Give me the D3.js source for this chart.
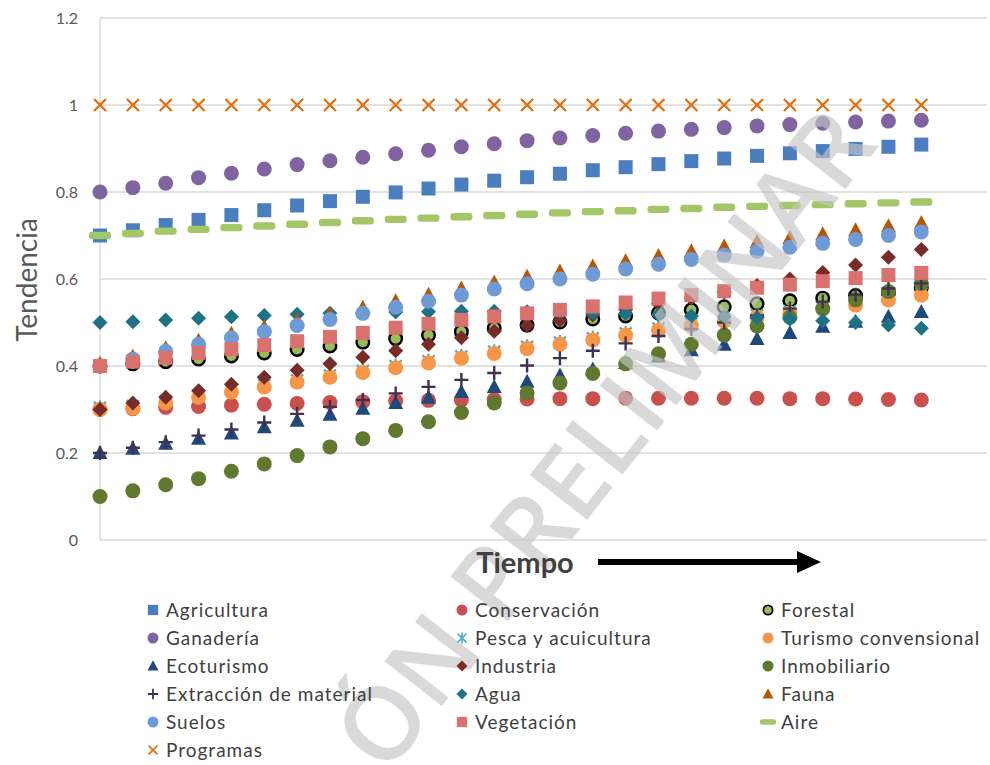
<!DOCTYPE html>
<html><head><meta charset="utf-8">
<script src="https://cdn.jsdelivr.net/npm/d3@7/dist/d3.min.js"></script>
<style>body{margin:0;background:#fff;} svg{display:block;}</style>
</head><body>
<svg id="c" width="990" height="765"></svg>
<script>
// ---- data ----
const periodos = [1,2,3,4,5,6,7,8,9,10,11,12,13,14,15,16,17,18,19,20,21,22,23,24,25,26];
const yTicks = [0, 0.2, 0.4, 0.6, 0.8, 1, 1.2];
const yTickLabels = ["0", "0.2", "0.4", "0.6", "0.8", "1", "1.2"];

const agricultura = [0.70,0.712,0.724,0.736,0.747,0.758,0.769,0.779,0.789,0.799,0.808,0.817,0.826,0.834,0.842,0.850,0.857,0.864,0.871,0.877,0.883,0.889,0.894,0.899,0.904,0.909];
const conservacion = [0.30,0.302,0.305,0.307,0.310,0.312,0.314,0.316,0.318,0.320,0.321,0.322,0.323,0.324,0.325,0.325,0.326,0.326,0.326,0.326,0.326,0.325,0.325,0.324,0.323,0.322];
const forestal = [0.40,0.405,0.41,0.416,0.423,0.43,0.438,0.446,0.455,0.463,0.471,0.479,0.487,0.494,0.501,0.508,0.515,0.522,0.529,0.536,0.543,0.55,0.556,0.562,0.568,0.58];
const ganaderia = [0.80,0.81,0.82,0.833,0.843,0.853,0.863,0.872,0.88,0.888,0.896,0.904,0.911,0.918,0.924,0.93,0.935,0.94,0.944,0.948,0.952,0.955,0.958,0.961,0.963,0.965];
const pesca = [0.304,0.308,0.319,0.332,0.344,0.356,0.367,0.378,0.389,0.400,0.411,0.422,0.433,0.444,0.454,0.464,0.475,0.486,0.497,0.507,0.517,0.526,0.535,0.544,0.556,0.567];
const turismo = [0.30,0.303,0.315,0.328,0.34,0.352,0.363,0.374,0.385,0.396,0.407,0.418,0.429,0.44,0.45,0.46,0.471,0.482,0.493,0.503,0.513,0.522,0.531,0.54,0.552,0.563];
const ecoturismo = [0.20,0.21,0.221,0.233,0.245,0.259,0.274,0.288,0.302,0.315,0.327,0.34,0.352,0.364,0.378,0.392,0.407,0.422,0.436,0.449,0.462,0.476,0.49,0.502,0.513,0.524];
const industria = [0.30,0.315,0.328,0.343,0.358,0.374,0.39,0.405,0.42,0.435,0.45,0.465,0.48,0.493,0.505,0.517,0.53,0.543,0.556,0.57,0.585,0.60,0.615,0.632,0.65,0.668];
const inmobiliario = [0.10,0.113,0.127,0.141,0.158,0.175,0.194,0.214,0.233,0.252,0.272,0.293,0.315,0.338,0.361,0.383,0.405,0.428,0.45,0.471,0.492,0.512,0.532,0.552,0.571,0.59];
const extraccion = [0.20,0.212,0.225,0.24,0.254,0.27,0.29,0.306,0.322,0.337,0.352,0.368,0.384,0.401,0.418,0.435,0.452,0.469,0.485,0.5,0.516,0.532,0.548,0.564,0.578,0.59];
const agua = [0.50,0.502,0.506,0.51,0.513,0.516,0.519,0.521,0.523,0.524,0.525,0.526,0.526,0.525,0.524,0.522,0.52,0.518,0.515,0.513,0.511,0.508,0.504,0.50,0.494,0.487];
const fauna = [0.405,0.422,0.441,0.458,0.474,0.489,0.504,0.519,0.534,0.549,0.564,0.578,0.592,0.605,0.617,0.629,0.641,0.653,0.664,0.675,0.685,0.694,0.703,0.712,0.721,0.729];
const suelos = [0.40,0.416,0.434,0.45,0.465,0.479,0.493,0.507,0.521,0.535,0.549,0.563,0.577,0.589,0.60,0.611,0.623,0.634,0.645,0.655,0.664,0.673,0.682,0.691,0.70,0.708];
const vegetacion = [0.40,0.41,0.419,0.43,0.439,0.448,0.457,0.467,0.476,0.488,0.497,0.506,0.514,0.521,0.529,0.537,0.546,0.555,0.563,0.572,0.58,0.587,0.595,0.602,0.609,0.614];
const aire = [0.70,0.705,0.71,0.714,0.718,0.722,0.726,0.730,0.734,0.737,0.740,0.743,0.746,0.749,0.752,0.755,0.757,0.760,0.762,0.765,0.767,0.769,0.771,0.773,0.775,0.777];
const programas = [1,1,1,1,1,1,1,1,1,1,1,1,1,1,1,1,1,1,1,1,1,1,1,1,1,1];

const seriesNames = ["Agricultura","Conservación","Forestal","Ganadería","Pesca y acuicultura","Turismo convensional","Ecoturismo","Industria","Inmobiliario","Extracción de material","Agua","Fauna","Suelos","Vegetación","Aire","Programas"];
const seriesValues = [agricultura,conservacion,forestal,ganaderia,pesca,turismo,ecoturismo,industria,inmobiliario,extraccion,agua,fauna,suelos,vegetacion,aire,programas];
const seriesShapes = ["square","circle","ringCircle","circle","asterisk","circle","triangle","diamond","circle","plus","diamond","triangle","circle","square","dash","x"];
const seriesColors = ["#4A7EBF","#C9504D","#9BBB59","#8064A2","#4BACC6","#F79646","#1F497D","#772C2A","#5F7A2E","#403152","#1F7186","#B65708","#6E9BD6","#D9716F","#A3C667","#E46C0A"];
const watermarkText = "ÓN PRELIMINAR";

// ---- layout ----
const svg = d3.select("#c");
const x = d3.scaleLinear().domain([1, 28]).range([100, 987]);
const y = d3.scaleLinear().domain([0, 1.2]).range([540, 18]);
const FONT = "Lato, 'Open Sans', sans-serif";

// gridlines
const grid = svg.append("g");
grid.selectAll("line").data(yTicks).join("line")
  .attr("x1", 100).attr("x2", 987)
  .attr("y1", d => y(d)).attr("y2", d => y(d))
  .attr("stroke", "#D9D9D9").attr("stroke-width", 1.3);
grid.append("line").attr("x1", 100).attr("x2", 100).attr("y1", y(1.2)).attr("y2", y(0))
  .attr("stroke", "#D9D9D9").attr("stroke-width", 1.3);

// y axis labels
const yAxis = d3.axisLeft(y).tickValues(yTicks).tickFormat((d,i) => yTickLabels[i]).tickSize(0).tickPadding(22);
const ya = svg.append("g").attr("transform", "translate(100,0)").call(yAxis);
ya.select(".domain").remove();
ya.selectAll("text").attr("font-family", FONT).attr("font-size", 16).attr("fill", "#595959");

// ---- marker drawing ----
function drawMarker(g, shape, color, s) {
  const k = s / 15;
  switch (shape) {
    case "square":
      g.append("rect").attr("x", -7*k).attr("y", -7*k).attr("width", 14*k).attr("height", 14*k).attr("fill", color); break;
    case "circle":
      g.append("circle").attr("r", 7.5*k).attr("fill", color); break;
    case "ringCircle":
      g.append("circle").attr("r", 6.3*k).attr("fill", color).attr("stroke", "#000").attr("stroke-width", 2.4*k); break;
    case "triangle":
      g.append("path").attr("d", `M0,${-8*k} L${7.5*k},${6*k} L${-7.5*k},${6*k} Z`).attr("fill", color); break;
    case "diamond":
      g.append("path").attr("d", `M0,${-7.5*k} L${7.5*k},0 L0,${7.5*k} L${-7.5*k},0 Z`).attr("fill", color); break;
    case "plus":
      g.append("path").attr("d", `M${-7*k},0 L${7*k},0 M0,${-7*k} L0,${7*k}`).attr("stroke", color).attr("stroke-width", 2.4*k); break;
    case "x":
      g.append("path").attr("d", `M${-6*k},${-6*k} L${6*k},${6*k} M${6*k},${-6*k} L${-6*k},${6*k}`).attr("stroke", color).attr("stroke-width", 2.2*k); break;
    case "asterisk":
      g.append("path").attr("d", `M${-6*k},${-6*k} L${6*k},${6*k} M${6*k},${-6*k} L${-6*k},${6*k} M0,${-7.5*k} L0,${7.5*k}`).attr("stroke", color).attr("stroke-width", 2.2*k); break;
    case "dash":
      g.append("rect").attr("x", -11*k).attr("y", -3.7*k).attr("width", 22*k).attr("height", 7.4*k).attr("rx", 3*k).attr("fill", color); break;
  }
}

const plot = svg.append("g");
seriesValues.forEach((vals, si) => {
  const sg = plot.append("g");
  vals.forEach((v, i) => {
    const mg = sg.append("g").attr("transform", `translate(${x(periodos[i])},${y(v)})`);
    drawMarker(mg, seriesShapes[si], seriesColors[si], 15);
  });
});

// ---- watermark (over the markers) ----
svg.append("text").attr("transform", "translate(880,145) rotate(-52)")
  .attr("text-anchor", "end").attr("font-family", "'Open Sans', sans-serif").attr("font-weight", 600)
  .attr("font-size", 102).attr("letter-spacing", 0.5).attr("fill", "#C4C4C4").attr("fill-opacity", 0.65)
  .text(watermarkText);

// axis titles
svg.append("text").attr("transform", "translate(37,280) rotate(-90)")
  .attr("text-anchor", "middle").attr("font-family", FONT)
  .attr("font-size", 28).attr("fill", "#595959").text("Tendencia");
svg.append("text").attr("x", 525).attr("y", 573).attr("text-anchor", "middle")
  .attr("font-family", FONT).attr("font-weight", "bold")
  .attr("font-size", 29).attr("fill", "#404040").text("Tiempo");
// arrow
svg.append("line").attr("x1", 598).attr("x2", 800).attr("y1", 562).attr("y2", 562)
  .attr("stroke", "#000").attr("stroke-width", 6);
svg.append("path").attr("d", "M797,551 L821,562 L797,573 Z").attr("fill", "#000");

// ---- legend ----
const legCols = [153, 462, 768];
const legRow0 = 610, legDy = 28;
const leg = svg.append("g");
seriesNames.forEach((name, i) => {
  const col = i % 3, row = Math.floor(i / 3);
  const lx = legCols[col], ly = legRow0 + row * legDy;
  const mg = leg.append("g").attr("transform", `translate(${lx},${ly})`);
  drawMarker(mg, seriesShapes[i], seriesColors[i], 11);
  leg.append("text").attr("x", lx + 13).attr("y", ly).attr("dy", "0.35em")
    .attr("font-family", FONT).attr("font-size", 19).attr("letter-spacing", 1)
    .attr("fill", "#404040").text(name);
});
</script>
</body></html>
